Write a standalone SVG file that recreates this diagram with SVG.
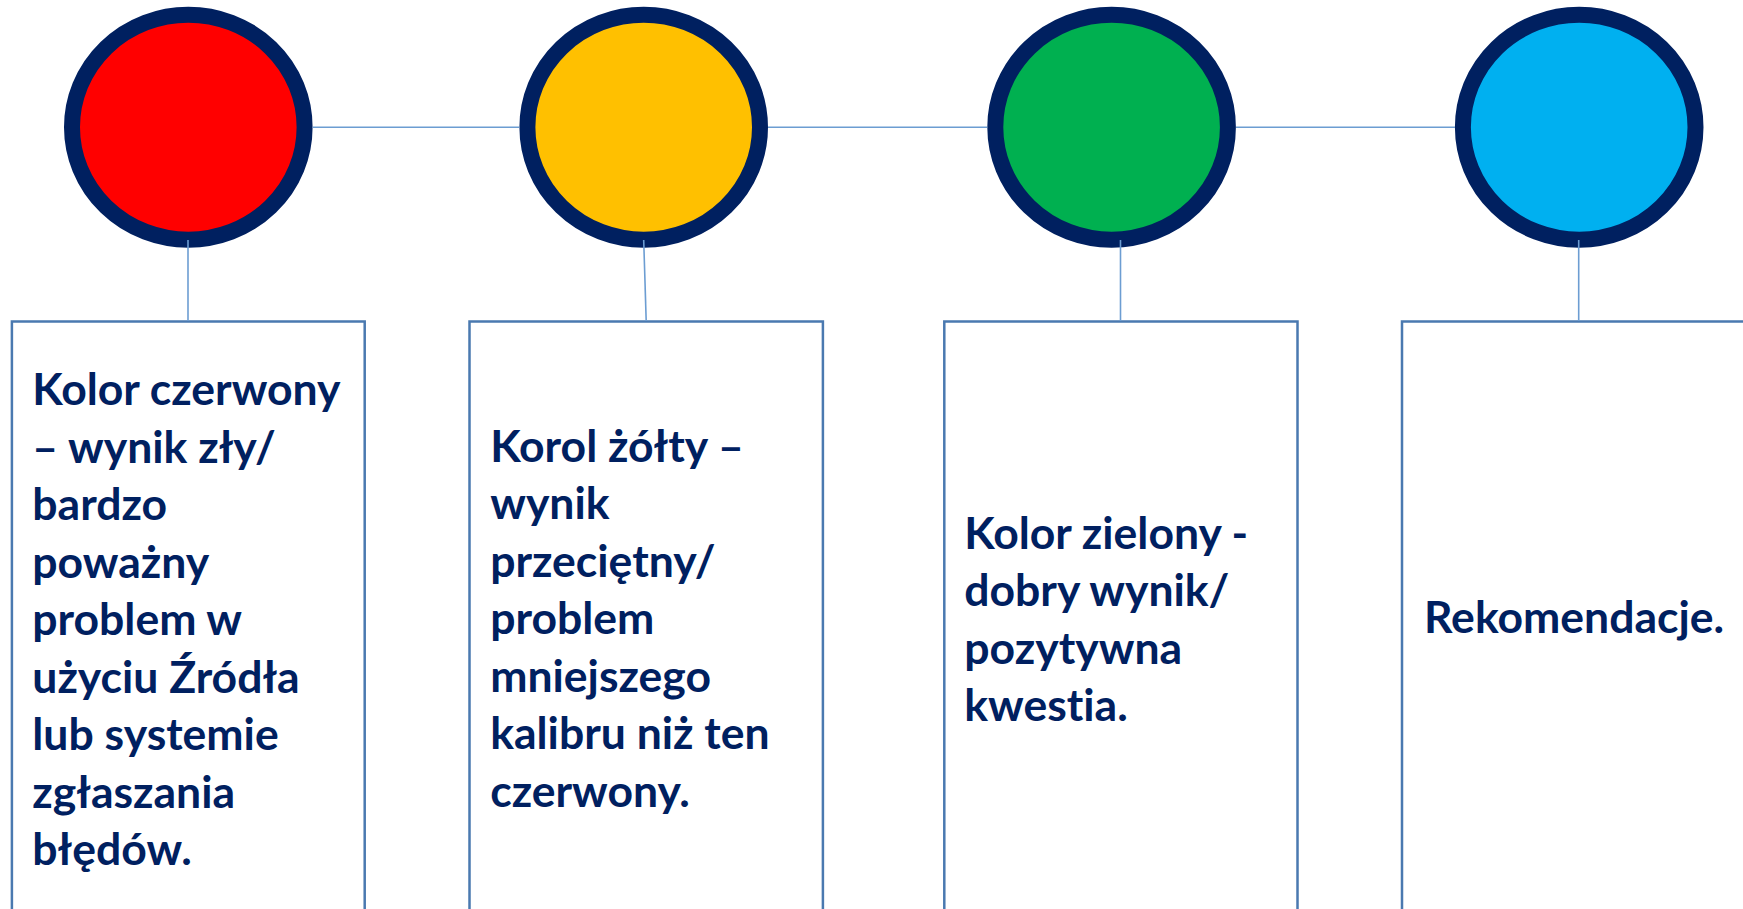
<svg xmlns="http://www.w3.org/2000/svg" width="1743" height="909" viewBox="0 0 1743 909">
<style>
.dot{stroke:#002060;stroke-width:16}
.box{fill:#fff;stroke:#4A79B0;stroke-width:2.5}
.lbl{font-family:Lato,"Liberation Sans",sans-serif;font-weight:bold;font-size:44.5px;fill:#002060;font-variant-ligatures:none;font-feature-settings:"liga" 0,"clig" 0}
.con{stroke:#6C9DD2;stroke-width:1.6;fill:none}
</style>
<rect width="1743" height="909" fill="#fff"/>
<g id="node-red">
<ellipse class="dot" cx="188.3" cy="127.2" rx="116.3" ry="112.5" fill="#FF0000"/>
<rect class="box" x="11.9" y="321.5" width="352.8" height="640"/>
<text class="lbl">
<tspan x="32.3" y="405">Kolor czerwony</tspan>
<tspan x="32.3" y="462.5">– wynik zły/</tspan>
<tspan x="32.3" y="520">bardzo</tspan>
<tspan x="32.3" y="577.5">poważny</tspan>
<tspan x="32.3" y="635">problem w</tspan>
<tspan x="32.3" y="692.5">użyciu Źródła</tspan>
<tspan x="32.3" y="750">lub systemie</tspan>
<tspan x="32.3" y="807.5">zgłaszania</tspan>
<tspan x="32.3" y="865">błędów.</tspan>
</text>
</g>
<g id="node-yellow">
<ellipse class="dot" cx="643.7" cy="127.2" rx="116.3" ry="112.5" fill="#FFC000"/>
<rect class="box" x="469.5" y="321.5" width="353.4" height="640"/>
<text class="lbl">
<tspan x="490.2" y="461.5">Korol żółty –</tspan>
<tspan x="490.2" y="519">wynik</tspan>
<tspan x="490.2" y="576.5">przeciętny/</tspan>
<tspan x="490.2" y="634">problem</tspan>
<tspan x="490.2" y="691.5">mniejszego</tspan>
<tspan x="490.2" y="749">kalibru niż ten</tspan>
<tspan x="490.2" y="806.5">czerwony.</tspan>
</text>
</g>
<g id="node-green">
<ellipse class="dot" cx="1111.6" cy="127.2" rx="116.3" ry="112.5" fill="#00B050"/>
<rect class="box" x="944.3" y="321.5" width="353.2" height="640"/>
<text class="lbl">
<tspan x="964.3" y="548.5">Kolor zielony -</tspan>
<tspan x="964.3" y="606">dobry wynik/</tspan>
<tspan x="964.3" y="663.5">pozytywna</tspan>
<tspan x="964.3" y="721">kwestia.</tspan>
</text>
</g>
<g id="node-blue">
<ellipse class="dot" cx="1579.2" cy="127.2" rx="116.3" ry="112.5" fill="#00B0F0"/>
<rect class="box" x="1402" y="321.5" width="353" height="640"/>
<text class="lbl"><tspan x="1424" y="633">Rekomendacje.</tspan></text>
</g>
<g id="connectors">
<line class="con" x1="312.6" y1="127.3" x2="519.3" y2="127.3"/>
<line class="con" x1="768" y1="127.3" x2="987.2" y2="127.3"/>
<line class="con" x1="1236" y1="127.3" x2="1455" y2="127.3"/>
<line class="con" x1="188" y1="240" x2="188" y2="321"/>
<line class="con" x1="643.7" y1="240" x2="646.2" y2="321"/>
<line class="con" x1="1120.5" y1="240" x2="1120.5" y2="321"/>
<line class="con" x1="1578.7" y1="240" x2="1578.7" y2="321"/>
</g>
</svg>
